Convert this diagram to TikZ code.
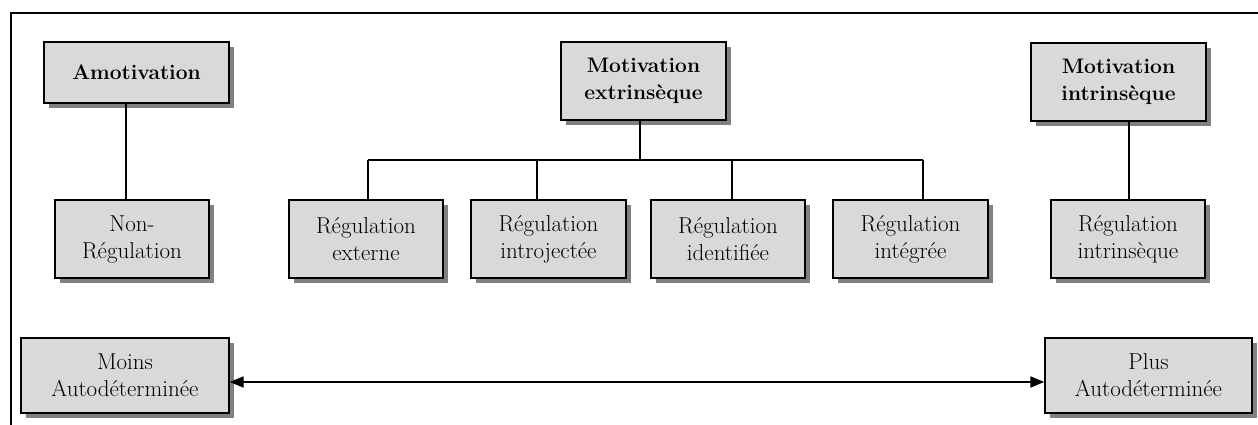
\documentclass[tikz,border=0pt]{standalone}
\usepackage{fontspec}
\setmainfont{Latin Modern Roman}
\usetikzlibrary{shadows,arrows.meta}
\begin{document}
\begin{tikzpicture}[x=1pt,y=-1pt,
  box/.style={draw=black, line width=1.4pt, fill={rgb,255:red,217;green,217;blue,217},
    align=center, inner sep=0pt, minimum height=78pt,
    font=\fontsize{23}{27}\selectfont,
    drop shadow={shadow xshift=5pt, shadow yshift=-5pt, fill={rgb,255:red,128;green,128;blue,128}, opacity=1, draw=none}},
  headbox/.style={box, line width=2.4pt, font=\fontsize{21}{27}\selectfont\bfseries},
  link/.style={line width=1.4pt},
]
\useasboundingbox (0,0) rectangle (1258,425);
\draw[line width=2pt] (11,425) -- (11,13) -- (1258,13);

\node[headbox, minimum width=185pt, minimum height=61pt] (amot) at (136.5,72.5) {Amotivation};
\node[headbox, minimum width=165pt] (mext) at (643.5,81) {Motivation\\extrinsèque};
\node[headbox, minimum width=175pt] (mint) at (1118.5,82) {Motivation\\intrinsèque};

\node[box, minimum width=154pt] (nonreg) at (132,239) {Non-\\Régulation};
\node[box, minimum width=154pt] (rext) at (366,239) {Régulation\\externe};
\node[box, minimum width=155pt] (rintro) at (548.5,239) {Régulation\\introjectée};
\node[box, minimum width=154pt] (rident) at (728,239) {Régulation\\identifiée};
\node[box, minimum width=155pt] (rinteg) at (910.5,239) {Régulation\\intégrée};
\node[box, minimum width=154pt] (rintr) at (1128,239) {Régulation\\intrinsèque};

\node[box, minimum width=208pt, minimum height=75pt] (moins) at (125,375.5) {Moins\\Autodéterminée};
\node[box, minimum width=207pt, minimum height=75pt] (plus) at (1148.5,375.5) {Plus\\Autodéterminée};

% connectors
\coordinate (a1) at ([xshift=-10.5pt]amot.south);
\draw[link] (a1) -- (a1 |- nonreg.north);

\coordinate (m1) at ([xshift=-3.5pt]mext.south);
\coordinate (bar) at (640,160);
\coordinate (b1) at (368,160);
\coordinate (b2) at (537,160);
\coordinate (b3) at (732,160);
\coordinate (b4) at (923,160);
\draw[link] (m1) -- (bar);
\draw[link] (b1) -- (b4);
\draw[link] (b1) -- (b1 |- rext.north);
\draw[link] (b2) -- (b2 |- rintro.north);
\draw[link] (b3) -- (b3 |- rident.north);
\draw[link] (b4) -- (b4 |- rinteg.north);

\coordinate (i1) at ([xshift=1pt]rintr.north);
\draw[link] (i1) -- (i1 |- mint.south);

\draw[line width=2pt, {Triangle[length=14pt,width=11pt]}-{Triangle[length=14pt,width=11pt]}]
  ([yshift=-6.5pt]moins.east) -- ([yshift=-6.5pt]plus.west);
\end{tikzpicture}
\end{document}
